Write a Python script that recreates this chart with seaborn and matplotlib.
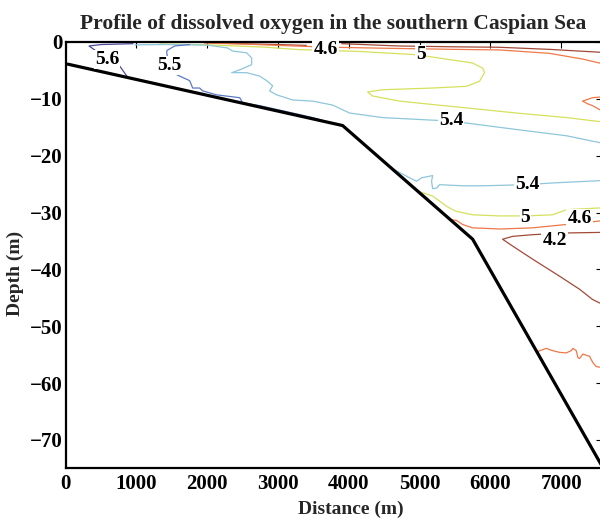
import numpy as np
import pandas as pd
import matplotlib
matplotlib.use("Agg")
import matplotlib.pyplot as plt
import seaborn as sns

# ---------------- data ----------------
title = "Profile of dissolved oxygen in the southern Caspian Sea"
x_label = "Distance (m)"
y_label = "Depth (m)"
x_ticks = [0, 1000, 2000, 3000, 4000, 5000, 6000, 7000]
y_ticks = [0, -10, -20, -30, -40, -50, -60, -70]

# sea-bed profile (distance m, depth m)
bottom_dist = [30, 3912, 5750, 7590]
bottom_depth = [-3.9, -14.7, -34.7, -74.9]

# isolines of dissolved oxygen (level, distance list, depth list)
iso_56_dist = [950, 500, 330, 420, 530, 600, 730, 790, 880]
iso_56_depth = [-0.3, -0.45, -0.7, -1.5, -2.3, -3.0, -3.7, -4.7, -6.3]

iso_55_dist = [1750, 1540, 1430, 1427, 1441, 1469, 1511, 1610, 1751, 1794, 1893, 1935,
               2133, 2458, 2500, 2740, 3206, 3489, 3630]
iso_55_depth = [-0.45, -0.7, -1.5, -1.9, -2.8, -4.2, -5.4, -6.0, -6.8, -8.1, -8.1, -8.6,
                -9.3, -9.8, -10.7, -11.2, -12.5, -13.3, -13.8]

iso_54a_dist = [975, 1400, 2000, 2288, 2359, 2556, 2627, 2627, 2458, 2345, 2556, 2740,
                2839, 2924, 2881, 2980, 3206, 3489, 3771, 4011, 4477, 5099, 5424,
                5749, 6370, 7076, 7542, 7600]
iso_54a_depth = [-0.5, -0.45, -0.55, -1.05, -1.6, -1.9, -2.8, -4.0, -4.9, -5.4, -5.4, -6.0,
                 -6.8, -7.7, -8.6, -9.3, -10.2, -10.4, -11.1, -12.5, -13.3, -13.7, -13.9,
                 -14.4, -15.4, -16.5, -17.7, -17.8]
iso_54b_dist = [4619, 4859, 4958, 5028, 5184, 5169, 5184, 5240, 5282, 5607, 5890,
                6511, 6879, 7542, 7600]
iso_54b_depth = [-22.3, -23.9, -24.5, -23.9, -23.5, -24.5, -25.8, -25.7, -25.1, -25.3,
                 -25.3, -25.1, -24.8, -24.4, -24.3]

iso_50a_dist = [1330, 2000, 2800, 3305, 4153, 4901, 5099, 5749, 5890, 5918, 5847, 5664,
                5184, 4477, 4266, 4336, 4718, 5184, 5664, 6370, 7076, 7542, 7600]
iso_50a_depth = [-0.35, -0.5, -0.9, -1.35, -1.67, -2.2, -2.5, -3.7, -4.6, -5.4, -6.9, -7.8,
                 -8.1, -8.4, -8.8, -9.5, -10.4, -11.0, -11.6, -12.5, -13.3, -14.0, -14.1]
iso_50b_dist = [4990, 5184, 5381, 5466, 5522, 5749, 6130, 6511, 6879, 7076, 7542, 7600]
iso_50b_depth = [-26.3, -27.1, -28.9, -29.5, -29.8, -30.4, -30.6, -30.6, -30.4, -29.5,
                 -29.2, -29.2]

iso_46a_dist = [1960, 2500, 3000, 3672, 4500, 5500, 6130, 6836, 7302, 7542, 7600]
iso_46a_depth = [-0.2, -0.35, -0.6, -0.9, -1.1, -1.3, -1.4, -2.0, -3.0, -3.7, -3.8]
iso_46b_dist = [7600, 7542, 7443, 7302, 7380, 7443, 7542, 7600]
iso_46b_depth = [-9.6, -9.7, -9.8, -10.4, -10.9, -11.2, -11.9, -12.0]
iso_46c_dist = [5430, 5522, 5607, 5749, 6130, 6596, 7076, 7542, 7600]
iso_46c_depth = [-31.2, -31.4, -32.1, -32.7, -32.9, -32.7, -32.1, -31.5, -31.4]
iso_46d_dist = [6660, 6789, 6879, 6977, 7072, 7143, 7165, 7213, 7236, 7260, 7306,
                7401, 7448, 7496, 7542, 7600]
iso_46d_depth = [-54.5, -53.9, -54.3, -54.6, -54.7, -54.3, -53.9, -54.3, -55.5, -55.7,
                 -54.9, -55.3, -56.4, -57.1, -57.2, -57.3]

iso_42a_dist = [2300, 3000, 3400]
iso_42a_depth = [-0.25, -0.45, -0.6]
iso_42b_dist = [3900, 4700, 5500, 6130, 6836, 7542, 7600]
iso_42b_depth = [-0.3, -0.7, -0.85, -0.93, -1.3, -1.8, -1.85]
iso_42c_dist = [7600, 7542, 7071, 6596, 6314, 6229, 6172, 6314, 6596, 6977, 7260,
                7443, 7542, 7600]
iso_42c_depth = [-33.5, -33.5, -33.6, -33.9, -34.2, -34.5, -34.7, -35.9, -38.2, -41.2,
                 -43.5, -45.3, -45.9, -46.2]

# contour labels (text, distance, depth)
label_text = ["5.6", "5.5", "4.6", "5", "5.4", "5.4", "5", "4.6", "4.2"]
label_dist = [586, 1469, 3672, 5014, 5447, 6520, 6497, 7260, 6907]
label_depth = [-3.0, -4.1, -1.3, -2.2, -13.8, -25.1, -30.8, -31.05, -34.9]

level_colors = {5.6: "#4c4aa0", 5.5: "#5b7ac2", 5.4: "#8ec6da", 5.0: "#d6e05c",
                4.6: "#ee7848", 4.2: "#a24a38"}

segments = [
    (5.6, iso_56_dist, iso_56_depth),
    (5.5, iso_55_dist, iso_55_depth),
    (5.4, iso_54a_dist, iso_54a_depth),
    (5.4, iso_54b_dist, iso_54b_depth),
    (5.0, iso_50a_dist, iso_50a_depth),
    (5.0, iso_50b_dist, iso_50b_depth),
    (4.6, iso_46a_dist, iso_46a_depth),
    (4.6, iso_46b_dist, iso_46b_depth),
    (4.6, iso_46c_dist, iso_46c_depth),
    (4.6, iso_46d_dist, iso_46d_depth),
    (4.2, iso_42a_dist, iso_42a_depth),
    (4.2, iso_42b_dist, iso_42b_depth),
    (4.2, iso_42c_dist, iso_42c_depth),
]

rows = []
for seg_id, (lev, dd, zz) in enumerate(segments):
    for order, (d, z) in enumerate(zip(dd, zz)):
        rows.append({"distance": d, "depth": z, "level": lev, "seg": seg_id,
                     "order": order})
iso_df = pd.DataFrame(rows)
bottom_df = pd.DataFrame({"distance": bottom_dist, "depth": bottom_depth})

# ---------------- figure ----------------
sns.set_style("white")
plt.rcParams["font.family"] = ["Liberation Serif", "DejaVu Serif"]
plt.rcParams["font.weight"] = "bold"
plt.rcParams["axes.unicode_minus"] = True

fig = plt.figure(figsize=(6.0, 5.19), dpi=100)
ax = fig.add_axes([0.1095, 0.0977, 0.893, 0.8214])

sns.lineplot(data=iso_df, x="distance", y="depth", hue="level", units="seg",
             estimator=None, sort=False, palette=level_colors, legend=False,
             linewidth=0.9, ax=ax)
sns.lineplot(data=bottom_df, x="distance", y="depth", color="black",
             estimator=None, sort=False, linewidth=2.3, ax=ax)

for t, d, z in zip(label_text, label_dist, label_depth):
    ax.text(d, z, t, ha="center", va="center", fontsize=14, fontweight="bold",
            color="black", zorder=5,
            bbox=dict(boxstyle="square,pad=0.05", fc="white", ec="none"))

ax.set_xlim(0, 7570)
ax.set_ylim(-75, 0)
ax.set_xticks(x_ticks)
ax.set_yticks(y_ticks)
ax.tick_params(direction="in", top=True, right=True, length=4, width=0.8,
               labelsize=15, colors="black")
ax.tick_params(axis="x", pad=4)
ax.tick_params(axis="y", pad=2)
for lab in ax.get_xticklabels() + ax.get_yticklabels():
    lab.set_fontweight("bold")
for sp in ax.spines.values():
    sp.set_visible(True)
    sp.set_linewidth(1.6)
    sp.set_color("black")

ax.set_xlabel(x_label, fontsize=14, fontweight="bold")
ax.set_ylabel(y_label, fontsize=14, fontweight="bold")
ax.xaxis.set_label_coords(0.532, -0.075)
ax.yaxis.set_label_coords(-0.078, 0.458)
ax.set_title(title, fontsize=15.5, fontweight="bold", pad=9)

fig.savefig("out.png", dpi=100)
